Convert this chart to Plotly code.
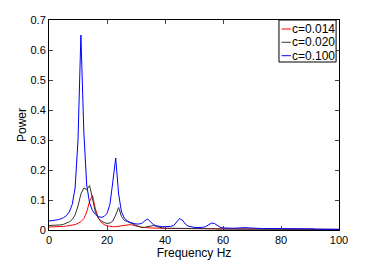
import plotly.graph_objects as go

freq = list(range(0, 101))

labels = ["c=0.014", "c=0.020", "c=0.100"]
colors = ["#ff0000", "#333333", "#0000ff"]

p_014 = [0.010, 0.010, 0.010, 0.011, 0.011, 0.012, 0.013, 0.014, 0.016, 0.018,
         0.022, 0.028, 0.038, 0.060, 0.095, 0.115, 0.070, 0.040, 0.026, 0.018,
         0.014, 0.012, 0.011, 0.011, 0.012, 0.013, 0.015, 0.017, 0.018, 0.016,
         0.013, 0.011, 0.009, 0.008, 0.007, 0.007, 0.006, 0.006, 0.006, 0.005,
         0.005, 0.005, 0.005, 0.005, 0.005, 0.005, 0.004, 0.004, 0.004, 0.004,
         0.004, 0.004, 0.004, 0.004, 0.004, 0.004, 0.004, 0.003, 0.003, 0.003,
         0.003, 0.003, 0.003, 0.003, 0.003, 0.003, 0.003, 0.003, 0.003, 0.003,
         0.003, 0.003, 0.003, 0.003, 0.003, 0.003, 0.003, 0.003, 0.003, 0.003,
         0.003, 0.003, 0.003, 0.002, 0.002, 0.002, 0.002, 0.002, 0.002, 0.002,
         0.002, 0.002, 0.002, 0.002, 0.002, 0.002, 0.002, 0.002, 0.002, 0.002,
         0.002]

p_020 = [0.015, 0.015, 0.016, 0.016, 0.017, 0.019, 0.022, 0.027, 0.035, 0.050,
         0.080, 0.120, 0.140, 0.135, 0.148, 0.100, 0.060, 0.040, 0.030, 0.025,
         0.022, 0.023, 0.030, 0.050, 0.075, 0.045, 0.032, 0.028, 0.025, 0.020,
         0.015, 0.011, 0.009, 0.009, 0.011, 0.014, 0.015, 0.012, 0.009, 0.007,
         0.006, 0.006, 0.005, 0.005, 0.006, 0.006, 0.005, 0.005, 0.004, 0.004,
         0.004, 0.004, 0.004, 0.004, 0.004, 0.004, 0.004, 0.004, 0.003, 0.003,
         0.003, 0.003, 0.003, 0.003, 0.003, 0.003, 0.003, 0.003, 0.003, 0.003,
         0.003, 0.003, 0.003, 0.003, 0.003, 0.003, 0.003, 0.003, 0.003, 0.003,
         0.003, 0.003, 0.003, 0.002, 0.002, 0.002, 0.002, 0.002, 0.002, 0.002,
         0.002, 0.002, 0.002, 0.002, 0.002, 0.002, 0.002, 0.002, 0.002, 0.002,
         0.002]

p_100 = [0.030, 0.031, 0.032, 0.034, 0.037, 0.041, 0.048, 0.060, 0.085, 0.140,
         0.300, 0.650, 0.330, 0.150, 0.090, 0.065, 0.052, 0.045, 0.042, 0.045,
         0.055, 0.085, 0.160, 0.240, 0.120, 0.060, 0.040, 0.030, 0.025, 0.022,
         0.020, 0.020, 0.022, 0.030, 0.037, 0.027, 0.018, 0.014, 0.012, 0.011,
         0.011, 0.011, 0.012, 0.015, 0.025, 0.038, 0.033, 0.020, 0.013, 0.010,
         0.009, 0.008, 0.008, 0.009, 0.011, 0.016, 0.023, 0.022, 0.014, 0.009,
         0.007, 0.006, 0.006, 0.006, 0.006, 0.007, 0.007, 0.008, 0.008, 0.007,
         0.006, 0.005, 0.005, 0.005, 0.005, 0.005, 0.005, 0.005, 0.006, 0.006,
         0.006, 0.005, 0.004, 0.004, 0.004, 0.004, 0.004, 0.004, 0.004, 0.004,
         0.004, 0.004, 0.003, 0.003, 0.003, 0.003, 0.003, 0.003, 0.002, 0.002,
         0.002]

series = [p_014, p_020, p_100]

x_ticks = [0, 20, 40, 60, 80, 100]
y_ticks = [0, 0.1, 0.2, 0.3, 0.4, 0.5, 0.6, 0.7]

fig = go.Figure()
for vals, name, col in zip(series, labels, colors):
    fig.add_trace(go.Scatter(x=freq, y=vals, mode="lines", name=name,
                             line=dict(color=col, width=1), showlegend=False))

font = dict(family="Liberation Sans, Arial, sans-serif", size=12, color="black")
tick_font = dict(family="Liberation Sans, Arial, sans-serif", size=11, color="black")

fig.update_layout(
    width=374, height=260,
    margin=dict(l=49, r=35, t=20, b=30, autoexpand=False),
    paper_bgcolor="white", plot_bgcolor="white",
    font=font,
    xaxis=dict(range=[0, 100], tickvals=x_ticks, ticks="inside", ticklen=4,
               tickfont=tick_font,
               showline=True, linecolor="black", linewidth=1, mirror="ticks",
               showgrid=False, zeroline=False, automargin=False,
               title=dict(text="Frequency Hz", standoff=0, font=font)),
    yaxis=dict(range=[0, 0.7], tickvals=y_ticks, ticks="inside", ticklen=4,
               tickfont=tick_font,
               showline=True, linecolor="black", linewidth=1, mirror="ticks",
               showgrid=False, zeroline=False, automargin=False,
               title=dict(text="Power", standoff=1, font=font)),
)

# legend box (MATLAB style)
lx0, lx1, ly0, ly1 = 0.793, 0.990, 0.80, 1.0
fig.add_shape(type="rect", xref="paper", yref="paper", x0=lx0, x1=lx1, y0=ly0, y1=ly1,
              line=dict(color="black", width=1), fillcolor="white", layer="above")
entry_y = [0.957, 0.894, 0.830]
for name, col, ey in zip(labels, colors, entry_y):
    fig.add_shape(type="line", xref="paper", yref="paper", x0=0.802, x1=0.834, y0=ey, y1=ey,
                  line=dict(color=col, width=1), layer="above")
    fig.add_annotation(xref="paper", yref="paper", x=0.835, y=ey, text=name,
                       showarrow=False, xanchor="left", yanchor="middle",
                       borderpad=0, font=font)

fig.write_html("out.html", config={"displayModeBar": False},
               post_script="document.body.style.margin='0';document.body.style.padding='0';")
